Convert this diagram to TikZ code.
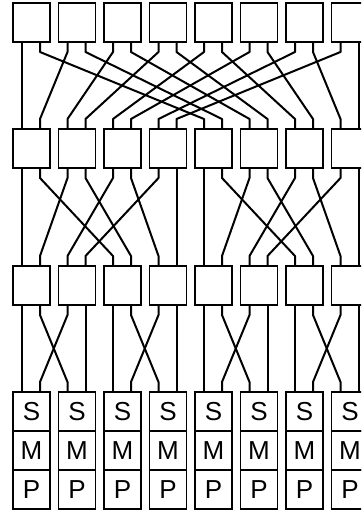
\documentclass[tikz,border=0pt]{standalone}
\usepackage{fontspec}
\setmainfont{Liberation Sans}
\begin{document}
\begin{tikzpicture}[x=1pt,y=-1pt,
  switchbox/.style={draw, line width=1.8pt, minimum width=37pt, minimum height=39pt,
    inner sep=0pt, outer sep=0pt, anchor=north west},
  cell/.style={switchbox, font=\fontsize{26}{26}\selectfont},
  wire/.style={line width=2pt, line join=round}]
\useasboundingbox (0,0) rectangle (361,510);
\clip (0,0) rectangle (361,510);

% the last column runs past the right edge, so nothing below widens the page
\begin{scope}[overlay]
% three rows of 2x2 switches and the processor stacks below them
\foreach \i in {0,...,7}{
  \pgfmathsetmacro{\bx}{13+45.5*\i}
  \node[switchbox] (a\i) at (\bx,3) {};
  \node[switchbox] (b\i) at (\bx,129) {};
  \node[switchbox] (c\i) at (\bx,266) {};
  \node[cell] (s\i) at (\bx,392) {S};
  \node[cell] (m\i) at (\bx,431) {M};
  \node[cell] (p\i) at (\bx,470) {P};
}

% one stage of unshuffle wiring: #1 upper row, #2 lower row, #3 group size in ports
\newcommand{\wirestage}[3]{%
  \foreach \q in {0,...,15}{
    \pgfmathtruncatemacro{\grp}{floor(\q/#3)*#3}
    \pgfmathtruncatemacro{\rem}{\q-\grp}
    \pgfmathtruncatemacro{\tgt}{\grp + (mod(\rem,2)==0 ? \rem/2 : #3/2 + (\rem-1)/2)}
    \pgfmathtruncatemacro{\upbox}{floor(\q/2)}
    \pgfmathsetmacro{\upx}{9+18*mod(\q,2)}
    \pgfmathtruncatemacro{\lobox}{floor(\tgt/2)}
    \pgfmathsetmacro{\lox}{9+18*mod(\tgt,2)}
    \draw[wire] ([xshift=\upx pt]#1\upbox.south west) -- ++(0,10)
      -- ([xshift=\lox pt,yshift=10pt]#2\lobox.north west)
      -- ([xshift=\lox pt]#2\lobox.north west);
  }}

\wirestage{a}{b}{16}
\wirestage{b}{c}{8}
\wirestage{c}{s}{4}
\end{scope}
\end{tikzpicture}
\end{document}
